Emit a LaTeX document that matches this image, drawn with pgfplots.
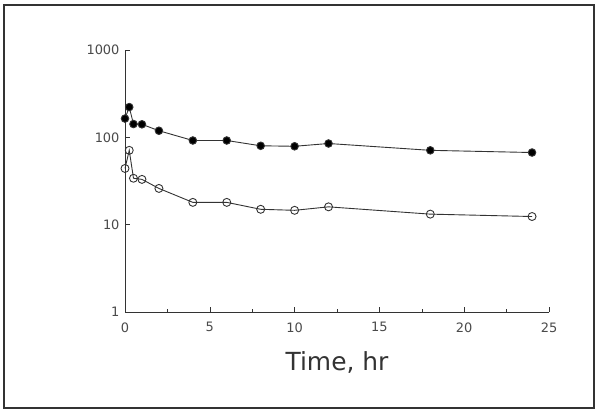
\documentclass[border=0pt]{standalone}
\usepackage{pgfplots}
\pgfplotsset{compat=1.18}
\usepackage{fontspec}
\setmainfont{DejaVu Sans}
\definecolor{ink}{HTML}{333333}
\definecolor{lbl}{HTML}{4A4A4A}
\pgfplotstableread{
t c
0 164
0.25 222
0.5 142
1 141
2 119
4 92
6 92
8 80
10 79
12 85
18 71
24 67
}\filled
\pgfplotstableread{
t c
0 44
0.25 71
0.5 34
1 33
2 26
4 18
6 18
8 15
10 14.6
12 16
18 13.2
24 12.4
}\open
\begin{document}
\begin{tikzpicture}[x=1bp,y=1bp]
\path[use as bounding box] (0,0) rectangle (600,412);
\draw[line width=2.2bp, ink] (4,4) rectangle (594,407);
\begin{axis}[
  at={(125bp,100bp)}, anchor=south west,
  scale only axis, width=424bp, height=262bp,
  xmin=0, xmax=25, ymin=1, ymax=1000,
  ymode=log,
  axis lines=left,
  axis line style={ink, line width=0.7bp, -},
  xtick={0,5,10,15,20,25},
  minor xtick={2.5,7.5,12.5,17.5,22.5},
  ytick={1,10,100,1000},
  yticklabels={1,10,100,1000},
  yminorticks=false,
  tick align=inside,
  major tick length=5bp,
  minor tick length=3bp,
  tick style={ink, line width=0.6bp},
  ticklabel style={font=\fontsize{13}{15}\selectfont, text=lbl},
  /pgf/number format/assume math mode=true,
  xticklabel style={yshift=-7bp},
  yticklabel style={xshift=-2bp},
  xlabel={Time, hr},
  xlabel style={font=\fontsize{25}{29}\selectfont, text=ink, yshift=-12bp},
  clip=false,
]
\addplot[ink, line width=0.9bp, mark=*, mark size=3.8bp, mark options={fill=black, draw=ink}] table[x=t,y=c] {\filled};
\addplot[ink, line width=0.9bp, mark=o, mark size=4bp, mark options={fill=white, draw=ink, line width=0.9bp}] table[x=t,y=c] {\open};
\end{axis}
\end{tikzpicture}
\end{document}
